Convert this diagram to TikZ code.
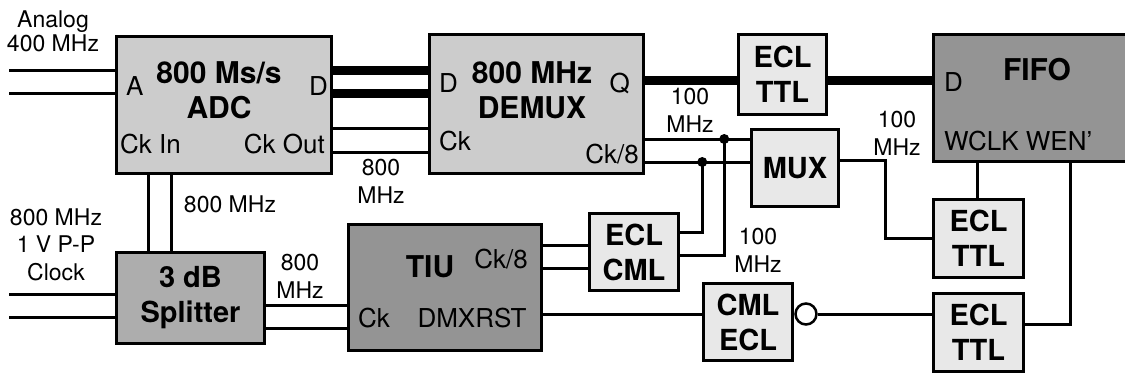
\documentclass[tikz,border=0pt]{standalone}
\usepackage{fontspec}
\setmainfont{TeX Gyre Heros}
\usetikzlibrary{calc}
\definecolor{boxpale}{gray}{0.91}
\definecolor{boxlight}{gray}{0.80}
\definecolor{boxmid}{gray}{0.68}
\definecolor{boxdark}{gray}{0.58}

\tikzset{
  blk/.style={draw, line width=3.5pt, inner sep=0pt, align=center, font=\fontsize{29}{35}\selectfont\bfseries},
  wire/.style={line width=3pt},
  bus/.style={line width=9pt},
  port/.style={font=\fontsize{26}{30}\selectfont, inner sep=0pt, anchor=base},
  tag/.style={font=\fontsize{30}{35}\selectfont\bfseries, inner sep=0pt, align=center, anchor=base},
  note/.style={font=\fontsize{23}{27.5}\selectfont, inner sep=0pt, align=center, anchor=base},
}

\begin{document}
\begin{tikzpicture}[x=1pt, y=-1pt]
\clip (0,0) rectangle (1125,375);

\node[blk, fill=boxlight, minimum width=215pt, minimum height=137pt] (adc) at (224,105) {};
\node[blk, fill=boxlight, minimum width=214pt, minimum height=139pt] (demux) at (536.5,104) {};
\node[blk, fill=boxpale, minimum width=88pt, minimum height=80pt] (ecltop) at (782.5,74.5) {ECL\\TTL};
\node[blk, fill=boxdark, minimum width=195pt, minimum height=127pt] (fifo) at (1031,98) {};
\node[blk, fill=boxpale, minimum width=87pt, minimum height=77pt] (mux) at (795,168) {MUX};
\node[blk, fill=boxpale, minimum width=90pt, minimum height=78pt] (etlmid) at (978.5,238.5) {ECL\\TTL};
\node[blk, fill=boxpale, minimum width=90pt, minimum height=78pt] (etlbot) at (978.5,332.5) {ECL\\TTL};
\node[blk, fill=boxpale, minimum width=89pt, minimum height=77pt] (eclcml) at (634,252) {ECL\\CML};
\node[blk, fill=boxpale, minimum width=89pt, minimum height=77pt] (cmlecl) at (748,322) {CML\\ECL};
\node[blk, fill=boxdark, minimum width=193pt, minimum height=126pt] (tiu) at (445,287.5) {};
\node[blk, fill=boxmid, minimum width=148pt, minimum height=91pt] (split) at (190.5,298) {3 dB\\Splitter};
\node[draw, circle, line width=2.5pt, minimum size=21pt, inner sep=0pt, fill=white, anchor=west] (inv) at ([yshift=8pt]cmlecl.east) {};

\node[port, anchor=base west] (adc-a) at (126,95) {A};
\node[port, anchor=base east] (adc-d) at (328,95) {D};
\node[tag] (adc-t) at (219,118) {800 Ms/s\\ADC};
\node[port, anchor=base west] (adc-ckin) at (120,153) {Ck In};
\node[port, anchor=base east] (adc-ckout) at (325,153) {Ck Out};

\node[port, anchor=base west] (dmx-d) at (439,92) {D};
\node[tag] (dmx-t) at (532,118) {800 MHz\\DEMUX};
\node[port, anchor=base east] (dmx-q) at (630,92) {Q};
\node[port, anchor=base west] (dmx-ck) at (439,150) {Ck};
\node[port, anchor=base east] (dmx-ck8) at (639,163) {Ck/8};

\node[tag] (fifo-t) at (1037,80) {FIFO};
\node[port, anchor=base west] (fifo-d) at (944,91) {D};
\node[port, anchor=base west] (fifo-w) at (944,150) {WCLK WEN'};

\node[tag] (tiu-t) at (430,277) {TIU};
\node[port] (tiu-ck8) at (501,268) {Ck/8};
\node[port, anchor=base west] (tiu-ck) at (358,327) {Ck};
\node[port] (tiu-rst) at (472,327) {DMXRST};

\coordinate (ain1) at (9,70);
\coordinate (ain2) at (9,93);
\coordinate (cin1) at (9,294);
\coordinate (cin2) at (9,317);
\draw[wire] (ain1) -- (ain1 -| adc.west);
\draw[wire] (ain2) -- (ain2 -| adc.west);
\draw[wire] (cin1) -- (cin1 -| split.west);
\draw[wire] (cin2) -- (cin2 -| split.west);

\draw[bus] (ain1 -| adc.east) -- (ain1 -| demux.west);
\draw[bus] (ain2 -| adc.east) -- (ain2 -| demux.west);
\draw[wire] ([yshift=-23pt]adc.east) coordinate (ck1) -- (ck1 -| demux.west);
\draw[wire] ([yshift=-47pt]adc.east) coordinate (ck2) -- (ck2 -| demux.west);

\draw[wire] ([xshift=-42.5pt]split.north) coordinate (sv1) -- (sv1 |- adc.south);
\draw[wire] ([xshift=-19.5pt]split.north) coordinate (sv2) -- (sv2 |- adc.south);
\draw[wire] ([yshift=-7pt]split.east) coordinate (st1) -- (st1 -| tiu.west);
\draw[wire] ([yshift=-30pt]split.east) coordinate (st2) -- (st2 -| tiu.west);

\draw[bus] ([yshift=24pt]demux.east) coordinate (q) -- (q -| ecltop.west);
\draw[bus] (q -| ecltop.east) -- (q -| fifo.west);

\draw[wire] ([yshift=-35pt]demux.east) coordinate (c8a) -- (c8a -| mux.west);
\draw[wire] ([yshift=-58pt]demux.east) coordinate (c8b) -- (c8b -| mux.west);
\draw[wire] ([yshift=20pt]eclcml.east) -- ++(22,0) coordinate (j2) -- (j2 |- c8b);
\draw[wire] ([yshift=-3pt]eclcml.east) -- ++(44,0) coordinate (j1) -- (j1 |- c8a);
\fill (j1 |- c8a) circle[radius=5pt];
\fill (j2 |- c8b) circle[radius=5pt];

\draw[wire] ([yshift=42.5pt]tiu.east) coordinate (t1) -- (t1 -| eclcml.west);
\draw[wire] ([yshift=19.5pt]tiu.east) coordinate (t2) -- (t2 -| eclcml.west);
\draw[wire] ([yshift=-26.5pt]tiu.east) coordinate (rst) -- (rst -| cmlecl.west);
\draw[wire] (inv.east) -- (inv.east -| etlbot.west);

\draw[wire] ([yshift=8pt]mux.east) -- ++(45,0) coordinate (mo) -- (mo |- etlmid.west) -- (etlmid.west);
\draw[wire] ([xshift=-54pt]fifo.south) coordinate (wclk) -- (wclk |- etlmid.north);
\draw[wire] ([yshift=8.5pt]etlbot.east) -- ++(45,0) coordinate (wen) -- (wen |- fifo.south);

\node[note] (lbl-analog) at (53,51) {Analog\\[-4pt]400 MHz};
\node[note] (lbl-clock) at (56,280) {800 MHz\\1 V P-P\\Clock};
\node[note] (lbl-sv) at (230,212) {800 MHz};
\node[note] (lbl-st) at (300,298) {800\\MHz};
\node[note] (lbl-ck) at (381,203) {800\\MHz};
\node[note] (lbl-q) at (690,132) {100\\MHz};
\node[note] (lbl-wclk) at (897,155) {100\\MHz};
\node[note] (lbl-rst) at (758,272) {100\\MHz};
\end{tikzpicture}
\end{document}
